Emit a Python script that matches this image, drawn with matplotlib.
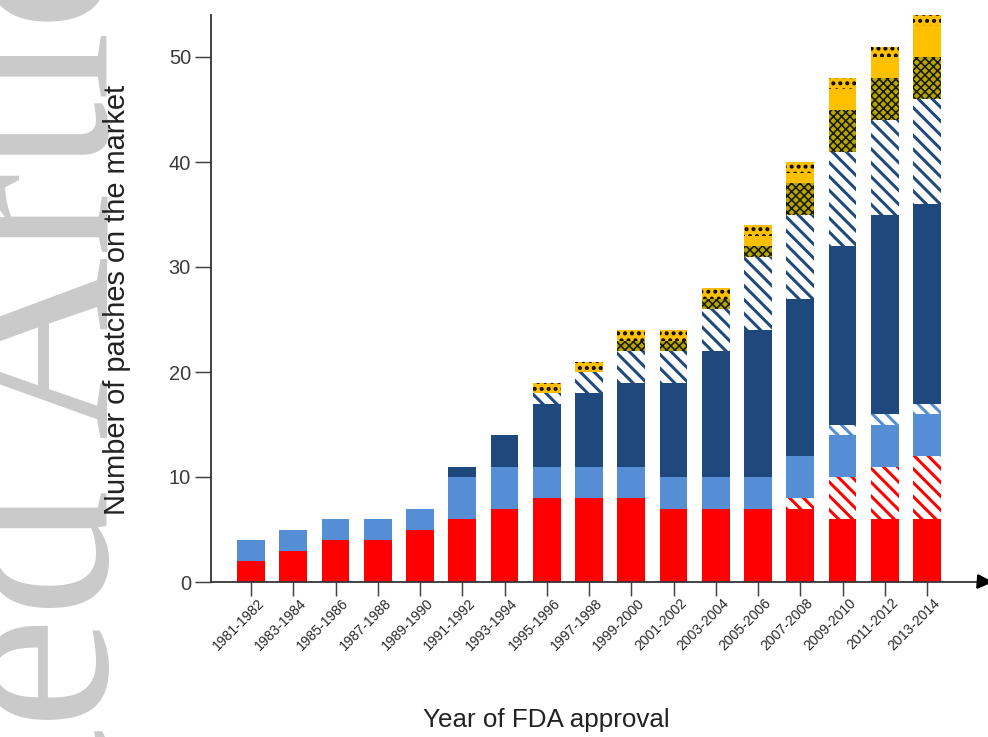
import matplotlib
matplotlib.use('Agg')
import matplotlib.pyplot as plt
import matplotlib.patches as mpatches
import matplotlib.transforms as mtransforms
import numpy as np

DPI = 125
PT = 72.0 / DPI  # points per pixel

# ---------------- data ----------------
periods = ['1981-1982', '1983-1984', '1985-1986', '1987-1988', '1989-1990',
           '1991-1992', '1993-1994', '1995-1996', '1997-1998', '1999-2000',
           '2001-2002', '2003-2004', '2005-2006', '2007-2008', '2009-2010',
           '2011-2012', '2013-2014']
red_solid   = [2, 3, 4, 4, 5, 6, 7, 8, 8, 8, 7, 7, 7, 7, 6, 6, 6]
red_hatch   = [0, 0, 0, 0, 0, 0, 0, 0, 0, 0, 0, 0, 0, 1, 4, 5, 6]
lblue_solid = [2, 2, 2, 2, 2, 4, 4, 3, 3, 3, 3, 3, 3, 4, 4, 4, 4]
lblue_hatch = [0, 0, 0, 0, 0, 0, 0, 0, 0, 0, 0, 0, 0, 0, 1, 1, 1]
dblue_solid = [0, 0, 0, 0, 0, 1, 3, 6, 7, 8, 9, 12, 14, 15, 17, 19, 19]
dblue_hatch = [0, 0, 0, 0, 0, 0, 0, 1, 2, 3, 3, 4, 7, 8, 9, 9, 10]
olive_cross = [0, 0, 0, 0, 0, 0, 0, 0, 0, 1, 1, 1, 1, 3, 4, 4, 4]
yellow_solid = [0, 0, 0, 0, 0, 0, 0, 0, 0, 0, 0, 0, 1, 1, 2, 2, 3]
yellow_check = [0, 0, 0, 0, 0, 0, 0, 1, 1, 1, 1, 1, 1, 1, 1, 1, 1]
y_ticks = [0, 10, 20, 30, 40, 50]

RED = '#FF0000'
LBLUE = '#558ED5'
DBLUE = '#1F497D'
YELLOW = '#FFC000'

plt.rcParams['font.family'] = ['Liberation Sans', 'DejaVu Sans']
plt.rcParams['hatch.linewidth'] = 3.0 * PT

per_patch_lw = hasattr(mpatches.Patch, 'set_hatch_linewidth')

fig = plt.figure(figsize=(988 / DPI, 737 / DPI), dpi=DPI)

# watermark
fig.text(108 / 988, 1 - 1448 / 737, 'Accepted Article', rotation=90,
         rotation_mode='anchor', ha='left', va='baseline',
         family=['Liberation Serif', 'DejaVu Serif'], fontsize=254 * PT,
         color='#CACACA', zorder=0)

ax = fig.add_axes([211 / 988, (737 - 582) / 737, (980 - 211) / 988, (582 - 15) / 737])
ax.set_zorder(1)
ax.patch.set_alpha(0)

STRIPE = '\\\\\\'
series = [
    (red_solid, dict(facecolor=RED, edgecolor=RED), None),
    (red_hatch, dict(facecolor='white', edgecolor=RED, hatch=STRIPE), 3.0),
    (lblue_solid, dict(facecolor=LBLUE, edgecolor=LBLUE), None),
    (lblue_hatch, dict(facecolor='white', edgecolor=LBLUE, hatch=STRIPE), 3.0),
    (dblue_solid, dict(facecolor=DBLUE, edgecolor=DBLUE), None),
    (dblue_hatch, dict(facecolor='white', edgecolor=DBLUE, hatch=STRIPE), 3.0),
    (olive_cross, dict(facecolor='#B8A600', edgecolor='#1a1a00',
                       hatch='xxxxx'), 1.6),
    (yellow_solid, dict(facecolor=YELLOW, edgecolor=YELLOW), None),
    (yellow_check, dict(facecolor=YELLOW, edgecolor='black', hatch='...'), 2.6),
]

x = np.arange(len(periods))
bottom = np.zeros(len(periods))
for vals, style, hlw in series:
    v = np.array(vals, dtype=float)
    bars = ax.bar(x, v, width=0.66, bottom=bottom, linewidth=0, **style)
    if per_patch_lw and hlw is not None:
        for p in bars:
            p.set_hatch_linewidth(hlw * PT)
    bottom += v

ax.set_xlim(-0.947, 17.254)
ax.set_ylim(0, 54)

for s in ['top', 'right']:
    ax.spines[s].set_visible(False)
for s in ['left', 'bottom']:
    ax.spines[s].set_linewidth(1.8 * PT)
    ax.spines[s].set_color('#333333')

ax.set_yticks(y_ticks)
ax.set_yticklabels([str(t) for t in y_ticks])
ax.tick_params(axis='y', length=16 * PT, width=1.5 * PT, pad=4 * PT,
               labelsize=20 * PT, labelcolor='#3a3a3a', color='#444444')

ax.set_xticks(x)
ax.set_xticklabels(periods, rotation=45, ha='right', va='center',
                   rotation_mode='anchor')
ax.tick_params(axis='x', length=14 * PT, width=1.5 * PT, pad=5 * PT,
               labelsize=14 * PT, labelcolor='#2a2a2a', color='#444444')
shift = mtransforms.ScaledTranslation(11 / DPI, 0, fig.dpi_scale_trans)
for lbl in ax.get_xticklabels():
    lbl.set_transform(lbl.get_transform() + shift)

# arrow head at end of x axis
arrow_tr = ax.transAxes + mtransforms.ScaledTranslation(4 / DPI, 0, fig.dpi_scale_trans)
ax.plot([1.0], [0.0], marker='>', color='black', markersize=13 * PT,
        transform=arrow_tr, clip_on=False, zorder=5)

fig.text(117 / 988, 1 - 300 / 737, 'Number of patches on the market',
         rotation=90, ha='center', va='center', fontsize=29 * PT,
         color='#222222', zorder=3)
fig.text(546 / 988, 1 - 720 / 737, 'Year of FDA approval',
         ha='center', va='center', fontsize=26 * PT, color='#222222', zorder=3)

fig.savefig('out.png', dpi=DPI)
